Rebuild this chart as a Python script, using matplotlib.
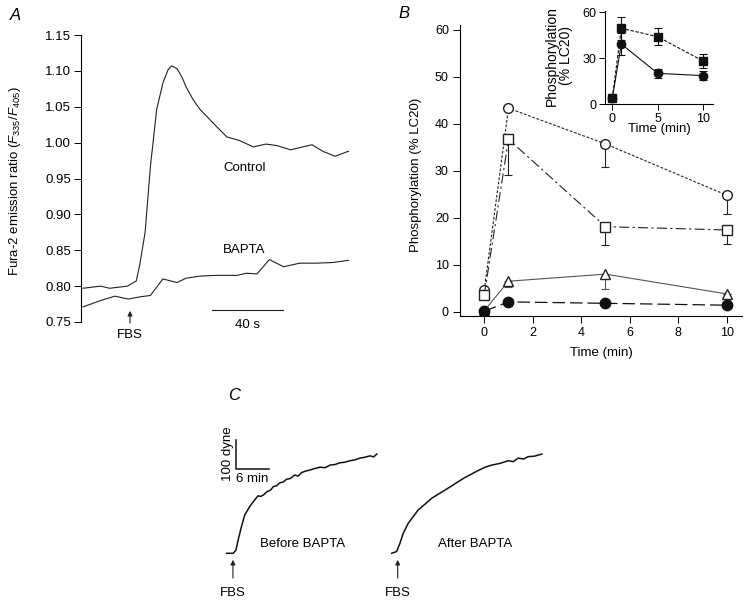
import numpy as np
import matplotlib
matplotlib.use("Agg")
import matplotlib.pyplot as plt

plt.rcParams['font.family'] = ['Liberation Sans', 'DejaVu Sans']
plt.rcParams['mathtext.fontset'] = 'custom'
plt.rcParams['mathtext.rm'] = 'Liberation Sans'
plt.rcParams['mathtext.it'] = 'Liberation Sans:italic'
plt.rcParams['xtick.direction'] = 'out'
plt.rcParams['ytick.direction'] = 'out'

# --- panel A: Fura-2 ratio traces (time in s) ---
ctrl_t = [0, 10, 15, 25, 30, 32, 35, 38, 41.5, 45, 48, 50, 53, 56, 58, 62,
          66, 70, 73, 77, 81, 88, 96, 103, 109, 117, 122, 129, 135, 142, 149.5]
ctrl_r = [0.797, 0.800, 0.797, 0.800, 0.807, 0.830, 0.875, 0.967, 1.046,
          1.083, 1.102, 1.107, 1.103, 1.090, 1.078, 1.060, 1.046, 1.036,
          1.028, 1.018, 1.008, 1.003, 0.994, 0.998, 0.996, 0.990, 0.993,
          0.997, 0.988, 0.981, 0.988]
bapta_t = [0, 10, 18, 25.5, 32, 38, 45, 53, 58, 66, 75, 87, 92, 98, 105, 113,
           122, 132, 141, 149.5]
bapta_r = [0.771, 0.780, 0.786, 0.782, 0.785, 0.787, 0.810, 0.805, 0.811,
           0.814, 0.815, 0.815, 0.818, 0.817, 0.837, 0.827, 0.832, 0.832,
           0.833, 0.836]
fbs_time_a = 26.5

# --- panel B: phosphorylation time course (min, % LC20) ---
t_b = [0, 1, 5, 10]
open_circ = [4.6, 43.3, 35.7, 24.8]
open_circ_err = [0, 0, 4.8, 3.9]
open_sq = [3.5, 36.7, 18.1, 17.4]
open_sq_err = [0, 7.6, 3.8, 3.0]
open_tri = [0.2, 6.5, 8.0, 3.8]
open_tri_err = [0, 1.2, 3.2, 0]
filled_circ = [0.1, 2.1, 1.8, 1.4]

# inset
ins_sq = [4.0, 49.6, 44.1, 28.3]
ins_sq_err = [0, 7.5, 5.5, 4.5]
ins_circ = [3.9, 39.3, 20.2, 18.7]
ins_circ_err = [0, 7.0, 3.0, 3.0]

# --- panel C: force traces (min, dyne) ---
before_t = [0, 1.2, 1.7, 2.1, 2.7, 3.3, 4.2, 5.1, 5.7, 6.2, 6.7, 7.3, 8.0, 8.5,
            9.1, 9.7, 10.3, 10.9, 11.6, 12.4, 13.0, 13.6, 14.3, 15.1, 16.0,
            17.0, 17.9, 18.8, 19.7, 20.6, 21.5, 22.4, 23.3, 24.2, 25.1, 26.1,
            26.7, 27.3]
before_d = [0, 0, 11, 46, 92, 132, 161, 184, 198, 196, 201, 212, 218, 230,
            233, 243, 246, 255, 258, 270, 266, 278, 283, 287, 292, 297, 295,
            304, 306, 312, 314, 319, 322, 328, 331, 336, 332, 342]
after_t = [0, 0.9, 1.5, 2.1, 3.0, 3.9, 4.8, 6.1, 7.3, 8.5, 9.7, 10.9, 12.1,
           13.3, 14.5, 15.7, 17.0, 18.2, 19.7, 21.2, 22.1, 23.0, 24.0, 24.8,
           26.0, 27.3]
after_d = [0, 6, 34, 69, 103, 126, 149, 170, 190, 204, 218, 232, 247, 261,
           273, 285, 297, 304, 310, 319, 316, 328, 325, 333, 335, 342]
after_offset = 30.0

W, H = 750, 606


def box(x0, y0, x1, y1):
    # pixel box (top-left origin) -> figure fraction rect
    return [x0 / W, 1 - y1 / H, (x1 - x0) / W, (y1 - y0) / H]


fig = plt.figure(figsize=(7.5, 6.06), dpi=100)

# ================= A =================
axA = fig.add_axes(box(81, 35, 352, 322))
axA.plot(ctrl_t, ctrl_r, color='#222222', lw=0.8)
axA.plot(bapta_t, bapta_r, color='#222222', lw=0.8)
axA.set_xlim(-1.1, 151.5)
axA.set_ylim(0.75, 1.15)
axA.set_yticks(np.arange(0.75, 1.151, 0.05))
axA.set_yticklabels(['%.2f' % v for v in np.arange(0.75, 1.151, 0.05)])
for s in ['top', 'right', 'bottom']:
    axA.spines[s].set_visible(False)
axA.spines['left'].set_linewidth(0.8)
axA.set_xticks([])
axA.tick_params(axis='y', labelsize=9.5, length=5, width=0.7, pad=2)
axA.set_ylabel('Fura-2 emission ratio ($\\mathit{F}_{335}$/$\\mathit{F}_{405}$)',
               fontsize=9.5)
axA.yaxis.set_label_coords(-0.215, 0.49)
axA.text(79, 0.965, 'Control', fontsize=9.5, va='center')
axA.text(79, 0.851, 'BAPTA', fontsize=9.5, va='center')
axA.plot([72.7, 112.7], [0.7667, 0.7667], color='#222222', lw=0.8)
axA.text(92.7, 0.7458, '40 s', fontsize=9.5, ha='center', va='center')
axA.annotate('', xy=(fbs_time_a, 0.7694), xytext=(fbs_time_a, 0.7445),
             arrowprops=dict(arrowstyle='-|>', color='#222222', lw=0.8,
                             mutation_scale=7),
             annotation_clip=False)
axA.text(fbs_time_a, 0.732, 'FBS', fontsize=9.5, ha='center', va='center',
         clip_on=False)
fig.text(10 / W, 1 - 15 / H, 'A', fontsize=12, style='italic', va='center')

# ================= B =================
axB = fig.add_axes(box(460, 25, 742, 316))
kw = dict(color='#222222', lw=0.8, capsize=3, elinewidth=0.8, capthick=0.8)
axB.errorbar(t_b, open_circ, yerr=[open_circ_err, [0] * 4], fmt='o',
             ls=(0, (2.5, 1.5)), mfc='white', mec='#222222', ms=7, **kw)
axB.errorbar(t_b, open_sq, yerr=[open_sq_err, [0] * 4], fmt='s',
             ls=(0, (9, 3, 2, 3)), mfc='white', mec='#222222', ms=6.5, **kw)
axB.errorbar(t_b, open_tri, yerr=[open_tri_err, [0] * 4], fmt='^',
             ls='-', mfc='white', mec='#222222', ms=6.5,
             color='#555555', lw=0.8, capsize=3, elinewidth=0.8, capthick=0.8)
axB.plot(t_b, filled_circ, marker='o', ls=(0, (10, 4)), color='#111111',
         lw=0.9, ms=7.5, zorder=5)
axB.set_xlim(-1.0, 10.63)
axB.set_ylim(-0.9, 61)
axB.set_xticks(range(0, 11, 2))
axB.set_yticks(range(0, 61, 10))
for s in ['top', 'right']:
    axB.spines[s].set_visible(False)
for s in ['left', 'bottom']:
    axB.spines[s].set_linewidth(0.8)
axB.tick_params(labelsize=9, length=5, width=0.7, pad=3)
axB.set_xlabel('Time (min)', fontsize=9.5, labelpad=6)
axB.set_ylabel('Phosphorylation (% LC20)', fontsize=9.5)
axB.yaxis.set_label_coords(-0.135, 0.485)
fig.text(398 / W, 1 - 14 / H, 'B', fontsize=12, style='italic', va='center')

# inset
axI = fig.add_axes(box(605, 10.8, 713, 104.3))
ikw = dict(color='#111111', lw=0.8, capsize=3, elinewidth=0.8, capthick=0.8)
axI.errorbar(t_b, ins_sq, yerr=ins_sq_err, fmt='s', ls=(0, (3, 1.5)), ms=5.5,
             **ikw)
axI.errorbar(t_b, ins_circ, yerr=ins_circ_err, fmt='o', ls='-', ms=6, **ikw)
axI.set_xlim(-0.8, 11.1)
axI.set_ylim(0, 61)
axI.set_xticks([0, 5, 10])
axI.set_yticks([0, 30, 60])
axI.patch.set_alpha(0)
for s in ['top', 'right']:
    axI.spines[s].set_visible(False)
for s in ['left', 'bottom']:
    axI.spines[s].set_linewidth(0.8)
axI.tick_params(labelsize=9, length=4, width=0.7, pad=2)
axI.set_xlabel('Time (min)', fontsize=9.5, labelpad=-1)
axI.set_ylabel('Phosphorylation\n(% LC20)', fontsize=10, linespacing=1.0)
axI.yaxis.set_label_coords(-0.3, 0.52)

# ================= C =================
axC = fig.add_axes(box(220, 430, 560, 600))
axC.plot(before_t, before_d, color='#111111', lw=1.1)
axC.plot(np.array(after_t) + after_offset, after_d, color='#111111', lw=1.1)
axC.set_xlim(-1.2, 60.6)
axC.set_ylim(-161, 425)
axC.axis('off')
# scale bar
axC.plot([1.7, 1.7, 7.7], [391, 291, 291], color='#111111', lw=1.1,
         clip_on=False)
axC.text(0.2, 345, '100 dyne', rotation=90, fontsize=9.5, ha='center',
         va='center')
axC.text(4.7, 278, '6 min', fontsize=9.5, ha='center', va='top')
axC.text(6.1, 32, 'Before BAPTA', fontsize=9.5, va='center')
axC.text(38.4, 32, 'After BAPTA', fontsize=9.5, va='center')
for tx in [1.15, after_offset + 1.1]:
    axC.annotate('', xy=(tx, -13), xytext=(tx, -95),
                 arrowprops=dict(arrowstyle='-|>', color='#222222', lw=0.8,
                                 mutation_scale=7),
                 annotation_clip=False)
    axC.text(tx, -137, 'FBS', fontsize=9.5, ha='center', va='center',
             clip_on=False)
fig.text(228 / W, 1 - 395 / H, 'C', fontsize=12, style='italic', va='center')

fig.savefig('out.png', dpi=100)
